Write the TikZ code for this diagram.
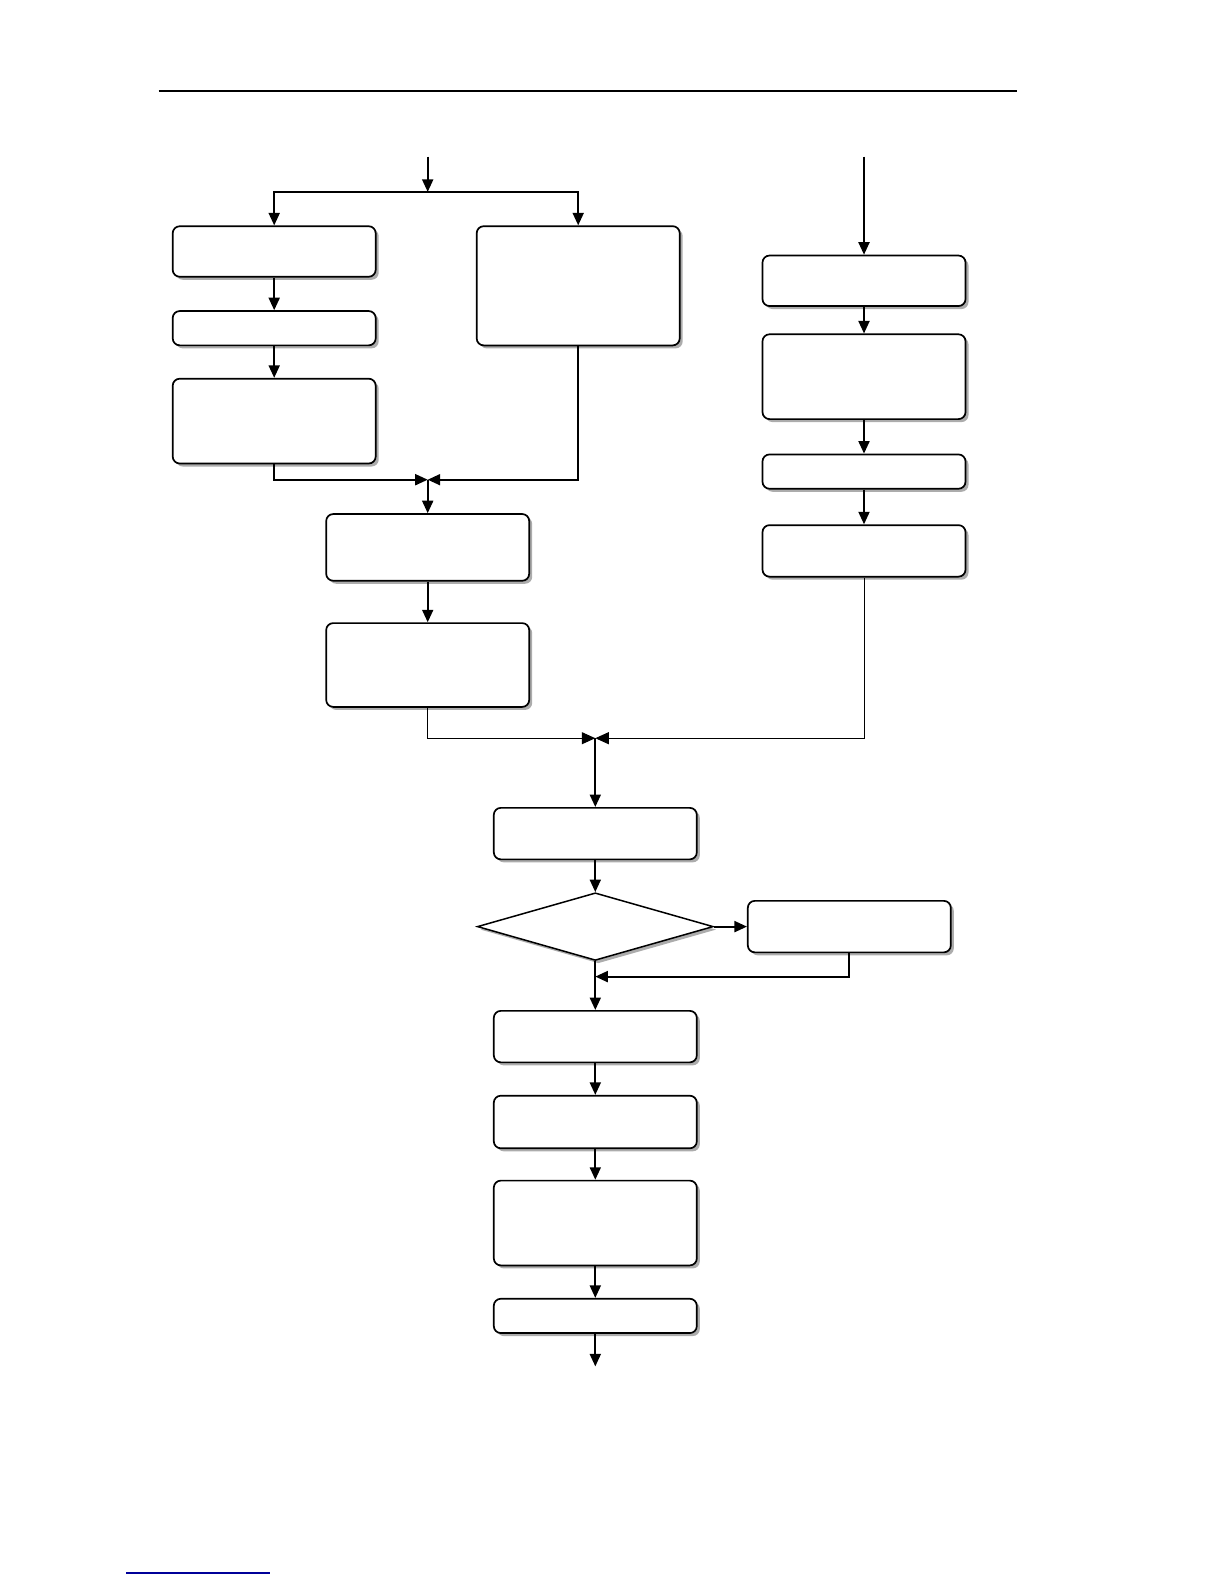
\documentclass[tikz,border=0pt]{standalone}
\usepackage{tikz}
\usetikzlibrary{arrows.meta,positioning,shapes.geometric,shadows}

\begin{document}
\begin{tikzpicture}[x=1pt,y=-1pt,
  box/.style={draw,line width=1.7pt,rounded corners=7pt,fill=white,inner sep=0pt,
    minimum width=203pt,drop shadow={shadow xshift=3pt,shadow yshift=-3pt,fill=gray!65,opacity=1}},
  decide/.style={draw,diamond,line width=1.5pt,fill=white,inner sep=0pt,
    minimum width=236pt,minimum height=67.6pt,drop shadow={shadow xshift=3pt,shadow yshift=-3pt,fill=gray!65,opacity=1}},
  link/.style={line width=1.9pt,-{Triangle[length=12.5pt,width=11pt]}},
  wire/.style={line width=1pt,-{Triangle[length=13.5pt,width=12pt]}}]
\useasboundingbox (0,0) rectangle (1224,1584);
\draw[line width=2.6pt] (158.6,91) -- (1017,91);
\draw[blue!60!black,line width=1.2pt] (126,1573) -- (270,1573);

% left branch
\node[box,minimum height=50.5pt] (a1) at (274.2,251.5) {};
\node[box,minimum height=34.3pt] (a2) at (274.2,328.2) {};
\node[box,minimum height=84.8pt] (a3) at (274.2,421.1) {};
\node[box,minimum height=119.2pt] (b) at (578.2,285.8) {};
\node[box,minimum height=66.7pt] (c) at (427.7,547.4) {};
\node[box,minimum height=83.8pt] (d) at (427.7,665) {};

% right branch
\node[box,minimum height=50.5pt] (e1) at (864,280.8) {};
\node[box,minimum height=84.8pt] (e2) at (864,376.7) {};
\node[box,minimum height=34.3pt] (e3) at (864,471.6) {};
\node[box,minimum height=51.5pt] (e4) at (864,550.9) {};

% main line
\node[box,minimum height=51.5pt] (f) at (595.3,833.6) {};
\node[decide] (q) at (595.3,926.6) {};
\node[box,minimum height=51.5pt] (g) at (849.3,926.6) {};
\node[box,minimum height=51.5pt] (h) at (595.3,1036.6) {};
\node[box,minimum height=52.6pt] (i) at (595.3,1122) {};
\node[box,minimum height=84.8pt] (j) at (595.3,1223) {};
\node[box,minimum height=34.3pt] (k) at (595.3,1315.9) {};

\coordinate (inA) at (427.7,156.5);
\coordinate (split) at (427.7,191.9);
\coordinate (inE) at (864,156.5);
\coordinate (joinA) at (427.7,479.7);
\coordinate (joinB) at (595.3,738.2);
\coordinate (back) at (595.3,976.6);
\coordinate (out) at (595.3,1366.4);

\draw[link] (inA) -- (split);
\draw[link] (split) -| (a1.north);
\draw[link] (split) -| (b.north);
\draw[link] (a1) -- (a2);
\draw[link] (a2) -- (a3);
\draw[link] (a3.south) |- (joinA);
\draw[link] (b.south) |- (joinA);
\draw[link] (joinA) -- (c);
\draw[link] (c) -- (d);

\draw[link] (inE) -- (e1);
\draw[link] (e1) -- (e2);
\draw[link] (e2) -- (e3);
\draw[link] (e3) -- (e4);

\draw[wire] (d.south) |- (joinB);
\draw[wire] (e4.south) |- (joinB);
\draw[link] (joinB) -- (f);
\draw[link] (f) -- (q);
\draw[link] (q) -- (g);
\draw[link] (g.south) |- (back);
\draw[link] (q.south) -- (h);
\draw[link] (h) -- (i);
\draw[link] (i) -- (j);
\draw[link] (j) -- (k);
\draw[link] (k) -- (out);
\end{tikzpicture}
\end{document}
